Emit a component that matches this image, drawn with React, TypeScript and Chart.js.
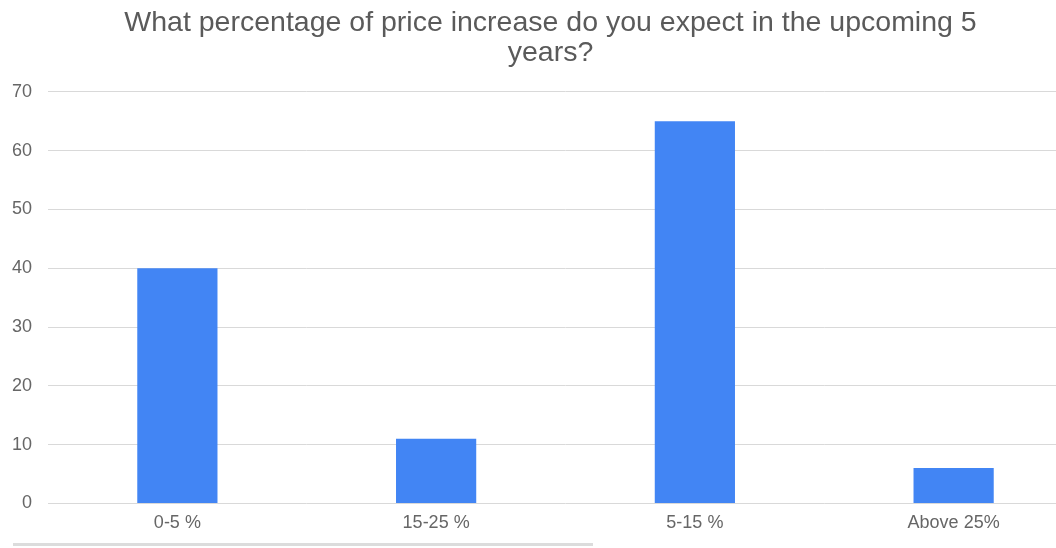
import React, { useEffect, useRef } from "react";
import { Chart, registerables } from "chart.js";

Chart.register(...registerables);

const categories = ["0-5 %", "15-25 %", "5-15 %", "Above 25%"];
const values = [40, 11, 65, 6];
const titleLines = ["What percentage of price increase do you expect in the upcoming 5", "years?"];

const FONT = "Liberation Sans, Arial, sans-serif";

const centerTitle = {
  id: "centerTitle",
  afterLayout(chart: any) {
    const t = chart.titleBlock;
    if (t) {
      t.left = 0;
      t.right = chart.width + 1;
    }
  },
};

export default function App() {
  const ref = useRef<HTMLCanvasElement | null>(null);
  useEffect(() => {
    if (!ref.current) return;
    const chart = new Chart(ref.current, {
      type: "bar",
      data: {
        labels: categories,
        datasets: [
          {
            data: values,
            backgroundColor: "#4285F4",
            borderWidth: 0,
            barPercentage: 0.31,
            categoryPercentage: 1,
          },
        ],
      },
      options: {
        animation: false,
        responsive: false,
        layout: { padding: { left: 0, right: 17, top: 0, bottom: 5 } },
        plugins: {
          legend: { display: false },
          tooltip: { enabled: false },
          title: {
            display: true,
            text: titleLines,
            color: "#5a5a5a",
            font: { family: FONT, size: 28.5, weight: "normal", lineHeight: 1.05 },
            padding: { top: 8, bottom: 24 },
          },
        },
        scales: {
          x: {
            grid: { display: false, drawTicks: false },
            border: { display: false },
            ticks: {
              color: "#666666",
              font: { family: FONT, size: 18 },
              padding: 9,
            },
          },
          y: {
            min: 0,
            max: 70,
            afterFit: (s: any) => {
              s.width = 48;
            },
            grid: { color: "#d9d9d9", drawTicks: false, lineWidth: 1 },
            border: { display: false },
            ticks: {
              stepSize: 10,
              color: "#666666",
              font: { family: FONT, size: 18 },
              padding: 16,
            },
          },
        },
      },
      plugins: [centerTitle],
    });
    return () => chart.destroy();
  }, []);
  return (
    <div style={{ position: "fixed", left: 0, top: 0, width: 1056, height: 548, overflow: "hidden", background: "#fff" }}>
      <canvas ref={ref} width={1100} height={548} style={{ display: "block", width: 1100, height: 548 }} />
      <div style={{ position: "absolute", left: 13, top: 543, width: 580, height: 3, background: "#dcdcdc" }} />
    </div>
  );
}
